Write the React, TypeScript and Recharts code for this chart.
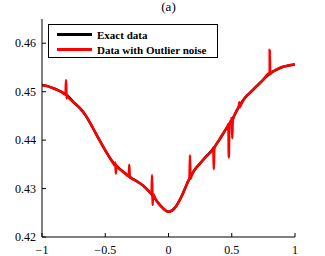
import React from "react";
import { LineChart, Line, XAxis, YAxis } from "recharts";

// exact curve at 0.05 steps
const xs = [
  -1, -0.95, -0.9, -0.85, -0.8, -0.75, -0.7, -0.65, -0.6, -0.55, -0.5, -0.45, -0.4, -0.35,
  -0.3, -0.25, -0.2, -0.15, -0.1, -0.05, 0, 0.05, 0.1, 0.15, 0.2, 0.25, 0.3, 0.35, 0.4, 0.45,
  0.5, 0.55, 0.6, 0.65, 0.7, 0.75, 0.8, 0.85, 0.9, 0.95, 1,
];
const exact = [
  0.4514, 0.4511, 0.4506, 0.45, 0.4492, 0.4478, 0.4466, 0.4449, 0.4426, 0.4402, 0.4379,
  0.4358, 0.4344, 0.4333, 0.4323, 0.4315, 0.4306, 0.4293, 0.4277, 0.4261, 0.4252, 0.426,
  0.4282, 0.4312, 0.4336, 0.4352, 0.4367, 0.4381, 0.44, 0.4421, 0.4441, 0.4466, 0.4486,
  0.4499, 0.4512, 0.4525, 0.4537, 0.4545, 0.4551, 0.4554, 0.4556,
];

// outliers: position, curve value there, top and bottom of the spike
const spikeX = [-0.81, -0.42, -0.31, -0.13, 0.17, 0.354, 0.473, 0.5, 0.56, 0.8];
const spikeBase = [0.4494, 0.4348, 0.4325, 0.4289, 0.4323, 0.4382, 0.443, 0.4441, 0.447, 0.4538];
const spikeHigh = [0.4524, 0.4354, 0.4349, 0.4328, 0.4369, 0.4384, 0.4433, 0.4445, 0.4478, 0.4586];
const spikeLow = [0.4486, 0.4331, 0.4322, 0.4266, 0.432, 0.434, 0.4364, 0.4404, 0.4468, 0.4536];

const xTicks = [-1, -0.5, 0, 0.5, 1];
const yTicks = [0.42, 0.43, 0.44, 0.45, 0.46];
const seriesNames = ["Exact data", "Data with Outlier noise"];
const seriesColors = ["#000000", "#ff0000"];

const exactData = xs.map((x, i) => ({ x, y: exact[i] }));

const noisyData = (() => {
  const pts = exactData.slice();
  spikeX.forEach((x, i) => {
    pts.push({ x: x - 0.004, y: spikeBase[i] });
    pts.push({ x, y: spikeHigh[i] });
    pts.push({ x: x + 0.004, y: spikeLow[i] });
    pts.push({ x: x + 0.008, y: spikeBase[i] });
  });
  return pts.sort((a, b) => a.x - b.x);
})();

const font = "'Liberation Serif', 'Times New Roman', serif";
const tickStyle = { fontFamily: font, fontSize: 12, fill: "#000" };
const fmtX = (v: number) => (v < 0 ? "\u2212" + Math.abs(v) : String(v));
const fmtY = (v: number) => v.toFixed(2);

export default function App() {
  return (
    <div style={{ position: "absolute", left: 0, top: 0, width: 325, height: 256, background: "#fff" }}>
      <div
        style={{
          position: "absolute",
          left: 0,
          width: 337,
          top: -1,
          textAlign: "center",
          fontFamily: font,
          fontSize: 13,
          lineHeight: "16px",
        }}
      >
        (a)
      </div>
      <LineChart width={325} height={256} data={exactData} margin={{ top: 19, right: 30, left: 0, bottom: 0 }}>
        <XAxis
          type="number"
          dataKey="x"
          domain={[-1, 1]}
          ticks={xTicks}
          tickFormatter={fmtX}
          height={19}
          tickSize={-4}
          tickMargin={12}
          tick={tickStyle}
          stroke="#000"
          allowDataOverflow
        />
        <XAxis
          xAxisId="top"
          orientation="top"
          type="number"
          dataKey="x"
          domain={[-1, 1]}
          ticks={xTicks}
          height={0}
          tickSize={-4}
          tick={{ fill: "transparent", fontSize: 1 }}
          stroke="#000"
        />
        <YAxis
          type="number"
          domain={[0.42, 0.465]}
          ticks={yTicks}
          tickFormatter={fmtY}
          width={42}
          tickSize={-4}
          tickMargin={10}
          tick={tickStyle}
          stroke="#000"
          allowDataOverflow
        />
        <YAxis
          yAxisId="right"
          orientation="right"
          type="number"
          domain={[0.42, 0.465]}
          ticks={yTicks}
          width={0}
          tickSize={-4}
          tick={{ fill: "transparent", fontSize: 1 }}
          stroke="#000"
        />
        <Line
          data={exactData}
          dataKey="y"
          type="monotone"
          stroke={seriesColors[0]}
          strokeWidth={2.5}
          dot={false}
          isAnimationActive={false}
        />
        <Line
          data={noisyData}
          dataKey="y"
          type="monotone"
          stroke={seriesColors[1]}
          strokeWidth={2.5}
          dot={false}
          isAnimationActive={false}
        />
      </LineChart>
      <div
        style={{
          position: "absolute",
          left: 48,
          top: 24,
          width: 168,
          height: 32,
          border: "1px solid #000",
          background: "#fff",
          fontFamily: font,
          fontWeight: "bold",
          fontSize: 11,
          boxSizing: "content-box",
        }}
      >
        {seriesNames.map((name, i) => (
          <div key={name} style={{ display: "flex", alignItems: "center", height: 15, marginTop: i === 0 ? 2 : 0 }}>
            <div style={{ marginLeft: 8, width: 35, height: 3, background: seriesColors[i] }} />
            <span style={{ marginLeft: 5, whiteSpace: "nowrap" }}>{name}</span>
          </div>
        ))}
      </div>
    </div>
  );
}
